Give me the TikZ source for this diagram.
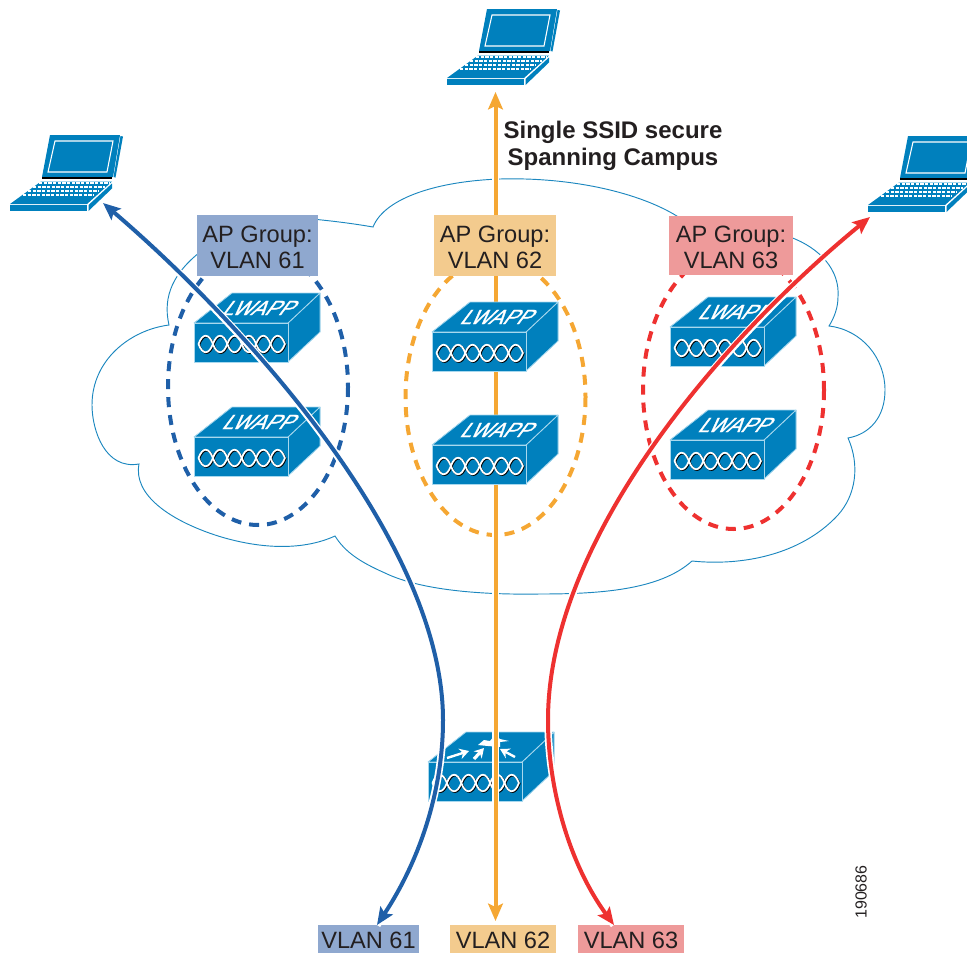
\documentclass[tikz,border=0pt]{standalone}
\usepackage{fontspec}
\setmainfont{Liberation Sans}
\newfontfamily\lwfont[FakeSlant=0.75,FakeStretch=1.0,FakeBold=1.2]{Liberation Sans}
\usetikzlibrary{arrows.meta}
\definecolor{swblue}{HTML}{0080BD}
\definecolor{swedge}{HTML}{A8D8EE}
\definecolor{cloudline}{HTML}{1C87BF}
\definecolor{lineblue}{HTML}{1F5FA8}
\definecolor{lineorange}{HTML}{F5A733}
\definecolor{linered}{HTML}{EE3130}
\definecolor{boxblue}{HTML}{8FA8CF}
\definecolor{boxorange}{HTML}{F3CB8E}
\definecolor{boxred}{HTML}{EE9A9A}
\definecolor{inkdark}{HTML}{231F20}
\newcommand{\twoline}[2]{\raisebox{2.2pt}[0pt][0pt]{\begin{tabular}[t]{@{}c@{}}#1\\#2\end{tabular}}}
\newcommand{\oneline}[1]{\raisebox{-7.4pt}[0pt][0pt]{#1}}
\newcommand{\braid}{%
  \foreach \k in {0,...,5}{
    \begin{scope}[shift={(4.5+14.4*\k,21)}]
      \draw[black,line width=1.3pt,shift={(0.8,0.8)}] (0,0) .. controls (4,-11) and (10.4,-11) .. (14.4,0) .. controls (10.4,11) and (4,11) .. (0,0);
    \end{scope}}
  \foreach \k in {0,...,5}{
    \begin{scope}[shift={(4.5+14.4*\k,21)}]
      \draw[white,line width=1.3pt] (0,0) .. controls (4,-11) and (10.4,-11) .. (14.4,0) .. controls (10.4,11) and (4,11) .. (0,0);
    \end{scope}}
}
\tikzset{
  x=0.75pt, y=-0.75pt,
  swface/.style={fill=swblue,draw=swedge,line width=0.6pt,line join=round},
  apbox/.style={inner sep=0pt,text=inkdark,align=center,minimum height=45.5pt,
    font=\fontsize{17.7}{19.5}\selectfont},
  vlanbox/.style={inner sep=0pt,text=inkdark,minimum height=21pt,
    font=\fontsize{17.7}{19.5}\selectfont},
  zone/.style={dash pattern=on 7.5pt off 6pt,line width=3pt},
  cloudstroke/.style={draw=cloudline,line width=0.7pt,line join=miter},
  link/.style={line width=3pt,>={Stealth[length=13pt,width=11pt,inset=2.5pt]},<->,
    preaction={draw=white,line width=5.6pt,-}},
  lwapp/.pic={
    \fill[swblue] (0,0) -- (38,-30) -- (126,-30) -- (126,9) -- (94,39) -- (0,39) -- cycle;
    \draw[swface] (94,0) -- (126,-30) -- (126,9) -- (94,39) -- cycle;
    \draw[swface] (0,0) -- (38,-30) -- (126,-30) -- (94,0) -- cycle;
    \draw[swface] (0,0) rectangle (94,39);
    \node[text=white,inner sep=0pt,font=\lwfont\fontsize{15.5}{16}\selectfont] (t) at (62,-15) {LWAPP};
    \braid
  },
  router/.pic={
    \fill[swblue] (0,0) -- (38,-30) -- (126,-30) -- (126,9) -- (94,39) -- (0,39) -- cycle;
    \draw[swface] (94,0) -- (126,-30) -- (126,9) -- (94,39) -- cycle;
    \draw[swface] (0,0) -- (38,-30) -- (126,-30) -- (94,0) -- cycle;
    \draw[swface] (0,0) rectangle (94,39);
    \braid
    \draw[white,line width=1.8pt,-{Stealth[length=7pt,width=8pt]}] (19,-4) -- (41,-11);
    \draw[white,line width=2.4pt,-{Stealth[length=7pt,width=8pt]}] (46,-3) -- (56,-14);
    \draw[white,line width=1.8pt,-{Stealth[length=7pt,width=8pt]}] (87,-5) -- (72,-13);
    \fill[white] (50,-17) -- (56,-22) -- (62,-21) -- (67,-27) -- (72,-23) -- (81,-21) -- (72,-20) -- (72,-15) -- (60,-16) -- cycle;
  },
  laptop/.pic={
    \fill[swblue] (40,-76) -- (110,-76) -- (103,-34) -- (32,-34) -- cycle;
    \draw[white,line width=0.8pt] (45,-70) -- (103,-70) -- (97,-39) -- (38,-39) -- cycle;
    \fill[swblue] (110.5,-75) -- (113,-74.5) -- (105.5,-33.5) -- (103.5,-34) -- cycle;
    \draw[black,line width=0.9pt] (32,-33) -- (102,-33);
    \fill[swblue] (31,-29.5) -- (102,-29.5) -- (77,-7) -- (0,-7) -- cycle;
    \draw[swedge,line width=0.5pt] (31,-29.5) -- (102,-29.5);
    \foreach \a/\b/\ry in {29/100/-28,23/95/-24,18/89/-20,13/84/-16}
      \draw[white,line width=1pt,dash pattern=on 2.6pt off 0.9pt] (\a,\ry) -- (\b,\ry);
    \fill[swblue] (0,-6) rectangle (77,0);
    \fill[swblue] (78.5,-6) -- (102,-27.5) -- (102,-22.5) -- (78.5,0) -- cycle;
  }
}
\begin{document}
\begin{tikzpicture}
\useasboundingbox (0,0) rectangle (967,953);
\clip (0,0) rectangle (967,953);

% named ends of the connectors
\coordinate (tipL) at (103,203);
\coordinate (tipR) at (870,217);
\coordinate (tipT) at (495.5,92);
\coordinate (end61) at (377,925);
\coordinate (end62) at (495.5,921);
\coordinate (end63) at (614,925);
\coordinate (bendB) at (443,720);
\coordinate (bendR) at (548,720);

% cloud
\draw[cloudstroke]
  (300,218) .. controls (325,220) and (350,223) .. (373,227)
  .. controls (385,197) and (440,181) .. (500,179)
  .. controls (570,177) and (640,192) .. (680,218);
\draw[cloudstroke]
  (790,237) .. controls (820,248) and (840,270) .. (838,297)
  .. controls (838,308) and (834,318) .. (829,326)
  .. controls (862,330) and (885,358) .. (885,390)
  .. controls (885,417) and (870,434) .. (848,438)
  .. controls (860,465) and (856,495) .. (838,515)
  .. controls (800,556) and (740,566) .. (692,561)
  .. controls (660,590) and (600,594) .. (540,594)
  .. controls (480,595) and (420,590) .. (385,573)
  .. controls (360,562) and (345,552) .. (335,536)
  .. controls (300,552) and (255,548) .. (215,535)
  .. controls (170,520) and (133,495) .. (139,464)
  .. controls (105,470) and (92,430) .. (92,405)
  .. controls (92,360) and (130,330) .. (169,325)
  .. controls (162,295) and (175,272) .. (200,252);

% dashed zones
\draw[zone,draw=lineblue] (258,387) ellipse [x radius=90,y radius=138];
\draw[zone,draw=lineorange] (495.5,397) ellipse [x radius=90,y radius=138];
\draw[zone,draw=linered] (733.5,390) ellipse [x radius=90.5,y radius=139];

% router and the line that runs over it
\pic (rt) at (428,762) {router};
\draw[link,draw=lineorange] (tipT) -- (end62);

% access points
\pic (a1) at (194,323) {lwapp};
\pic (a2) at (194,437) {lwapp};
\pic (b1) at (432,332) {lwapp};
\pic (b2) at (432,445) {lwapp};
\pic (c1) at (670,327) {lwapp};
\pic (c2) at (670,440) {lwapp};

% laptops
\pic (lapL) at (10,211) {laptop};
\pic (lapT) at (447,85) {laptop};
\pic (lapR) at (868,212) {laptop};

% labels
\node[apbox,fill=boxblue,minimum width=91pt] (g61) at (257.5,245.5) {\twoline{AP Group:}{VLAN 61}};
\node[apbox,fill=boxorange,minimum width=91.5pt] (g62) at (495,245.5) {\twoline{AP Group:}{VLAN 62}};
\node[apbox,fill=boxred,minimum width=93pt,minimum height=44.5pt] (g63) at (731,245.5) {\twoline{AP Group:}{VLAN 63}};
\node[vlanbox,fill=boxblue,minimum width=75.75pt] (v61) at (368.5,939) {\oneline{VLAN 61}};
\node[vlanbox,fill=boxorange,minimum width=79.5pt] (v62) at (503,939) {\oneline{VLAN 62}};
\node[vlanbox,fill=boxred,minimum width=79.5pt] (v63) at (631,939) {\oneline{VLAN 63}};
\node[inner sep=0pt,align=center,text=inkdark,font=\bfseries\fontsize{18}{20.2}\selectfont] (title) at (613,146) {Single SSID secure\\Spanning Campus};
\node[inner sep=0pt,text=inkdark,rotate=90,font=\fontsize{12}{13}\selectfont] (fig) at (861,892) {190686};

% curved connectors
\draw[link,draw=lineblue] (tipL)
  .. controls (240,320) and (443,540) .. (bendB)
  .. controls (443,790) and (420,860) .. (end61);
\draw[link,draw=linered] (end63)
  .. controls (570,865) and (548,790) .. (bendR)
  .. controls (548,540) and (720,340) .. (tipR);
\end{tikzpicture}
\end{document}
